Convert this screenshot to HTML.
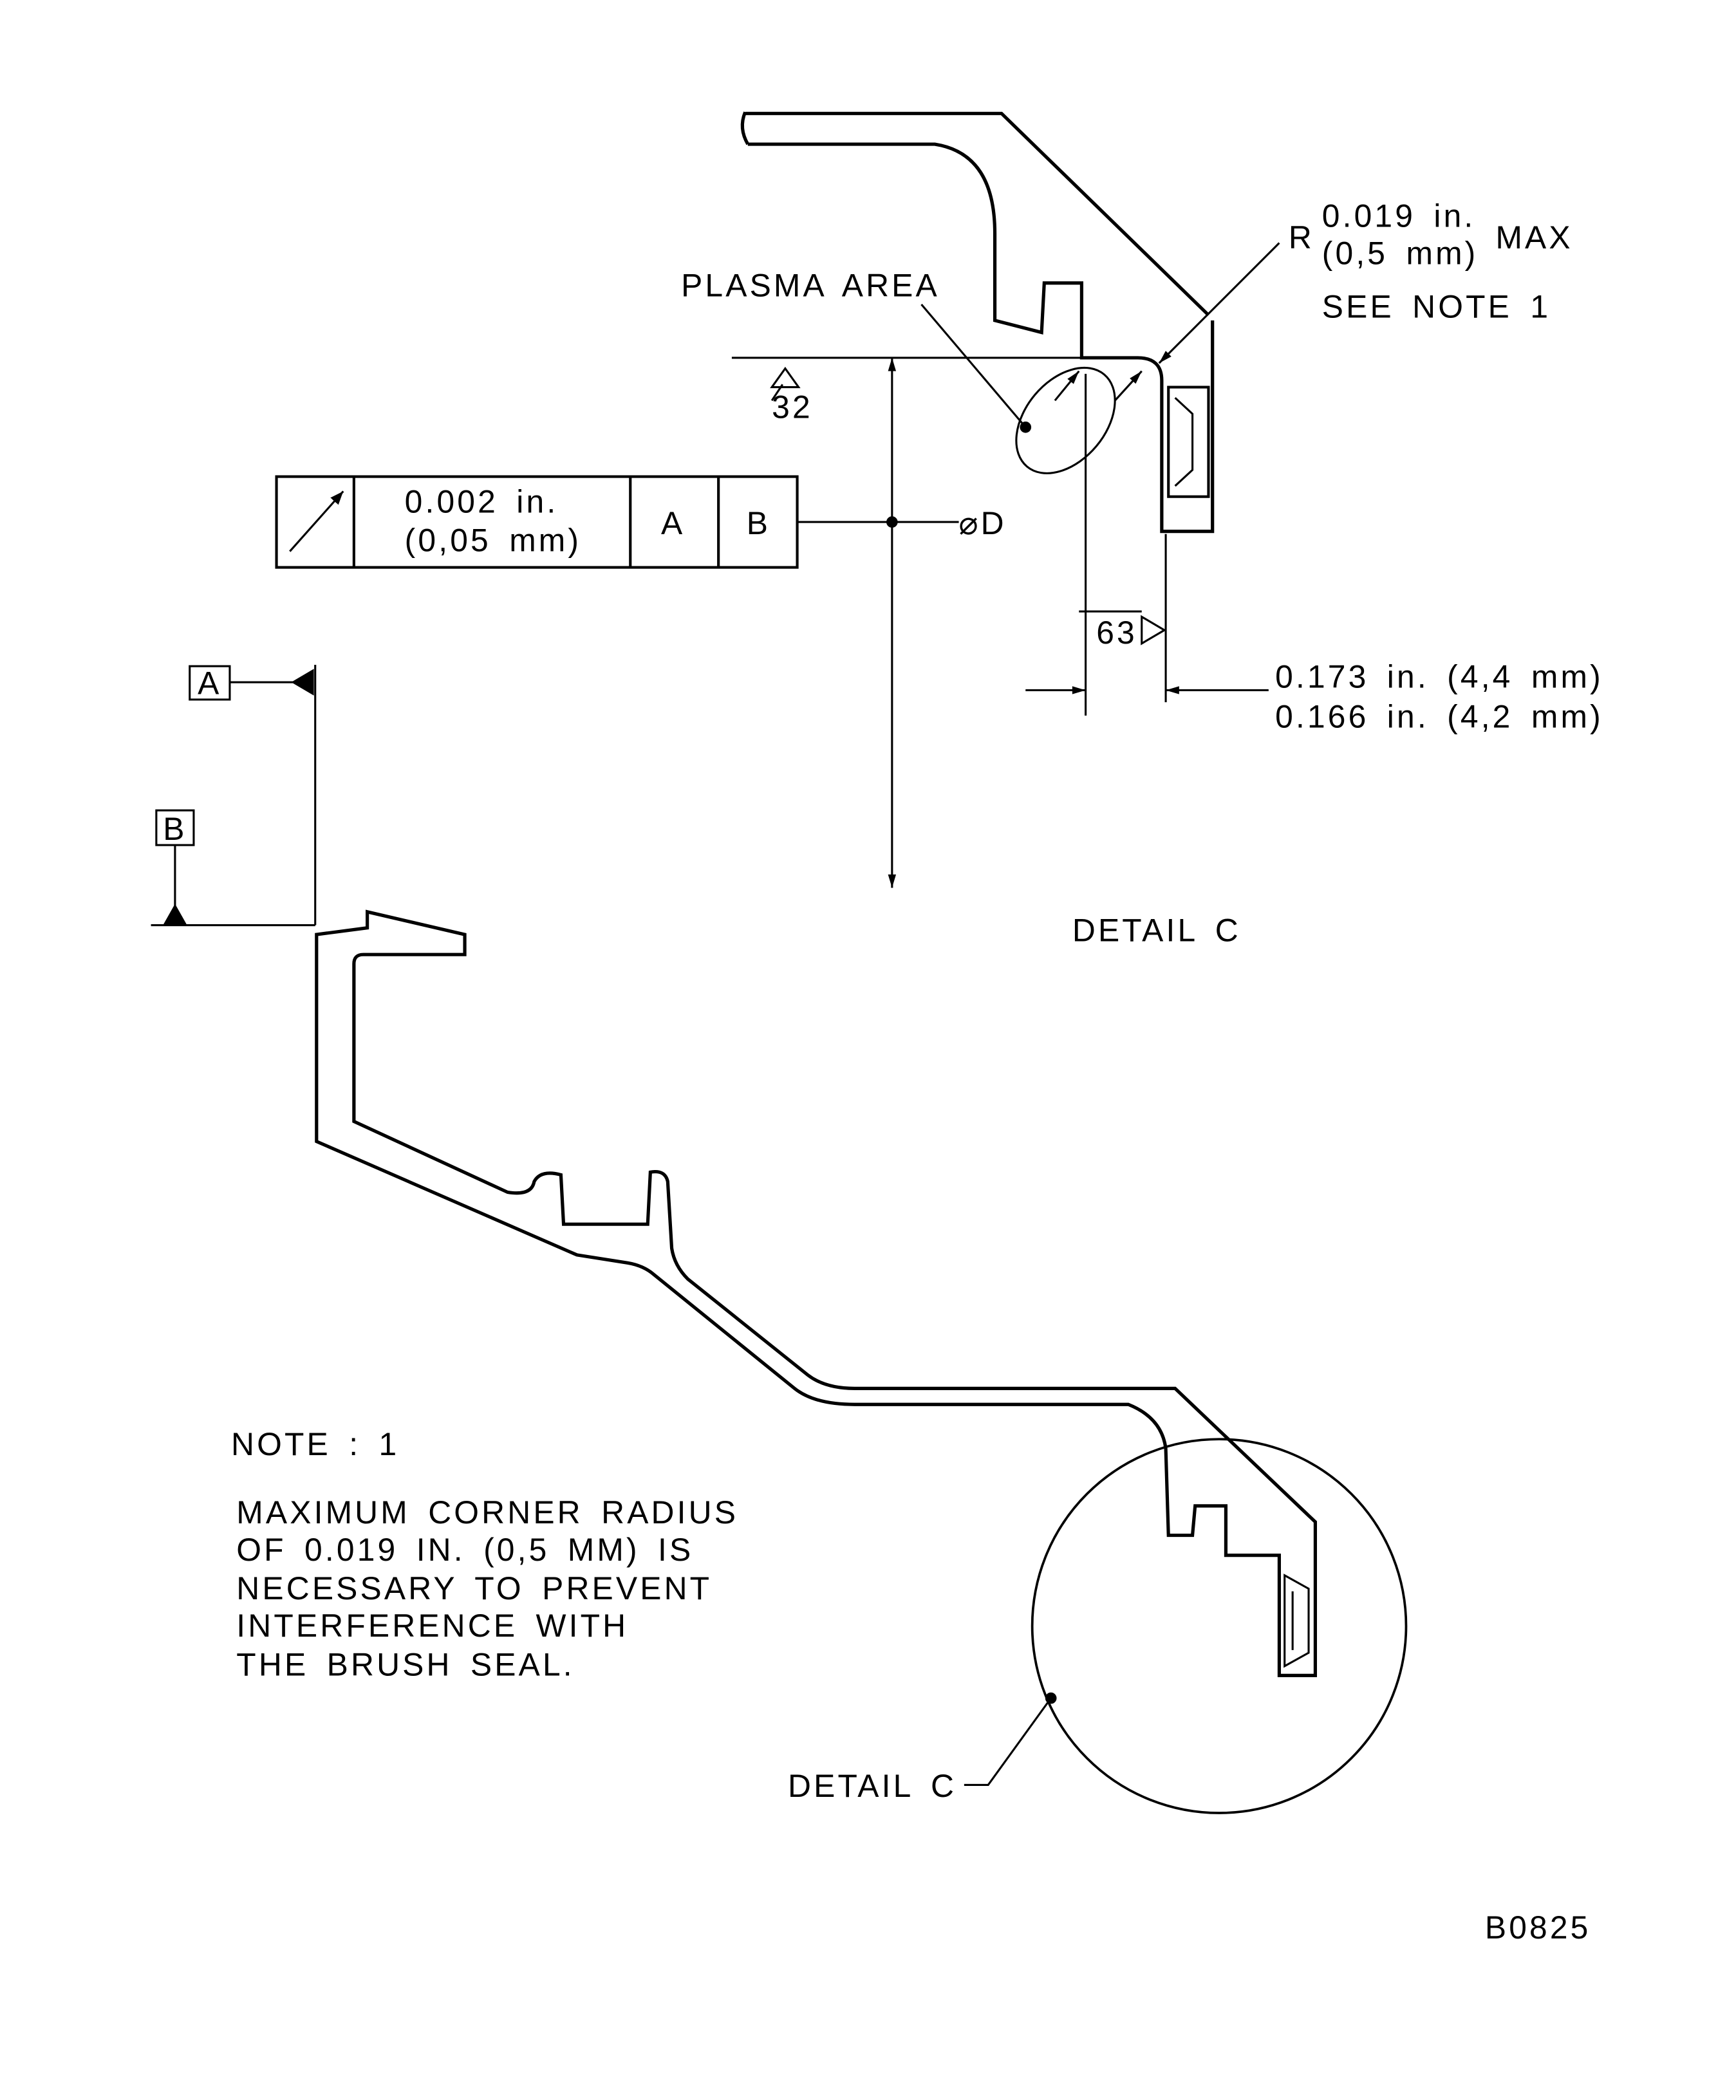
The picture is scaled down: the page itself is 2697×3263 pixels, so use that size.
<!DOCTYPE html>
<html><head><meta charset="utf-8"><style>
html,body{margin:0;padding:0;background:#fff;}
svg{display:block;}
text{font-family:"Liberation Sans",sans-serif;fill:#000;font-size:24px;letter-spacing:2px;word-spacing:5px;}
</style></head><body>
<svg width="2697" height="3263" viewBox="0 0 1300 1573" xmlns="http://www.w3.org/2000/svg">
<defs>
<marker id="ar" viewBox="0 0 10 10" refX="10" refY="5" markerWidth="10" markerHeight="10" markerUnits="userSpaceOnUse" orient="auto-start-reverse"><path d="M0,1 L10,5 L0,9 z" fill="#000"/></marker>
<marker id="arL" viewBox="0 0 10 10" refX="10" refY="5" markerWidth="16" markerHeight="10" markerUnits="userSpaceOnUse" orient="auto-start-reverse"><path d="M0,2 L10,5 L0,8 z" fill="#000"/></marker>
</defs>
<g fill="none" stroke="#000" stroke-width="2.5" stroke-linejoin="miter">
<path d="M558,84 Q553,96 560,108"/>
<path d="M558,85 L750,85 L905,236"/>
<path d="M560,108 L700,108 Q745,115 745,175 L745,240 L780,249 L782,212 L810,212 L810,268 L852,268 Q870,268 870,285 L870,398 L908,398 L908,240"/>
<path d="M875,290 L905,290 L905,372 L875,372 Z" stroke-width="2"/>
<path d="M880,298 L893,310 L893,352 L880,364" stroke-width="1.5"/>
<line x1="548" y1="268" x2="810" y2="268" stroke-width="1.5"/>
<path d="M578,290 L588,276 L598,290 Z M586,288 L578,300" stroke-width="1.5"/>
<line x1="668" y1="268" x2="668" y2="665" stroke-width="1.5" marker-start="url(#arL)" marker-end="url(#arL)"/>
<rect x="207" y="357" width="390" height="68" stroke-width="2"/>
<line x1="265" y1="357" x2="265" y2="425" stroke-width="2"/>
<line x1="472" y1="357" x2="472" y2="425" stroke-width="2"/>
<line x1="538" y1="357" x2="538" y2="425" stroke-width="2"/>
<line x1="217" y1="413" x2="257" y2="368" stroke-width="1.5" marker-end="url(#ar)"/>
<line x1="597" y1="391" x2="718" y2="391" stroke-width="1.5"/>
<circle cx="668" cy="391" r="3" fill="#000"/>
<ellipse cx="798" cy="315" rx="30" ry="45" transform="rotate(40 798 315)" stroke-width="1.5"/>
<line x1="690" y1="228" x2="768" y2="320" stroke-width="1.5"/>
<circle cx="768" cy="320" r="3" fill="#000"/>
<line x1="790" y1="300" x2="808" y2="278" stroke-width="1.5" marker-end="url(#arL)"/>
<line x1="835" y1="300" x2="855" y2="278" stroke-width="1.5" marker-end="url(#arL)"/>
<line x1="958" y1="182" x2="868" y2="272" stroke-width="1.5" marker-end="url(#arL)"/>
<line x1="813" y1="280" x2="813" y2="536" stroke-width="1.5"/>
<line x1="873" y1="400" x2="873" y2="526" stroke-width="1.5"/>
<line x1="768" y1="517" x2="813" y2="517" stroke-width="1.5" marker-end="url(#arL)"/>
<line x1="950" y1="517" x2="873" y2="517" stroke-width="1.5" marker-end="url(#arL)"/>
<path d="M808,458 L855,458 M855,462 L872,472 L855,482 Z" stroke-width="1.5"/>
<rect x="142" y="499" width="30" height="25" stroke-width="1.5"/>
<line x1="172" y1="511" x2="220" y2="511" stroke-width="1.5"/>
<path d="M218,511 L235,501 L235,521 Z" fill="#000" stroke="none"/>
<line x1="236" y1="498" x2="236" y2="693" stroke-width="1.5"/>
<rect x="117" y="607" width="28" height="26" stroke-width="1.5"/>
<line x1="131" y1="633" x2="131" y2="680" stroke-width="1.5"/>
<path d="M131,677 L122,693 L140,693 Z" fill="#000" stroke="none"/>
<line x1="113" y1="693" x2="236" y2="693" stroke-width="1.5"/>
<path d="M237,700 L275,695 L275,683 L348,700 L348,715 L272,715 Q265,715 265,722 L265,840 L380,893 Q398,896 400,885 Q405,876 420,880 L422,917 L485,917 L487,878 Q498,876 500,885 L503,935 Q505,948 515,958 L605,1030 Q618,1040 640,1040 L880,1040 L985,1140 L985,1255 L958,1255 L958,1165 L918,1165 L918,1128 L895,1128 L893,1150 L875,1150 L873,1085 Q870,1062 845,1052 L640,1052 Q610,1052 595,1040 L490,955 Q482,948 470,946 L432,940 L237,855 Z"/>
<path d="M962,1180 L980,1190 L980,1238 L962,1248 Z M968,1192 L968,1236" stroke-width="1.5"/>
<circle cx="913" cy="1218" r="140" stroke-width="1.8"/>
<path d="M787,1272 L740,1337 L722,1337" stroke-width="1.5"/>
<circle cx="787" cy="1272" r="3" fill="#000"/>
</g>
<text x="510" y="222">PLASMA AREA</text>
<text x="965" y="186">R</text>
<text x="990" y="170">0.019 in.</text>
<text x="990" y="198">(0,5 mm)</text>
<text x="1120" y="186">MAX</text>
<text x="990" y="238">SEE NOTE 1</text>
<text x="578" y="313">32</text>
<text x="303" y="384">0.002 in.</text>
<text x="303" y="413">(0,05 mm)</text>
<text x="495" y="400">A</text>
<text x="559" y="400">B</text>
<text x="718" y="400">⌀D</text>
<text x="821" y="482">63</text>
<text x="955" y="515">0.173 in. (4,4 mm)</text>
<text x="955" y="545">0.166 in. (4,2 mm)</text>
<text x="803" y="705">DETAIL C</text>
<text x="148" y="520" font-size="22">A</text>
<text x="122" y="629" font-size="22">B</text>
<text x="173" y="1090">NOTE : 1</text>
<text x="177" y="1141">MAXIMUM CORNER RADIUS</text>
<text x="177" y="1169">OF 0.019 IN. (0,5 MM) IS</text>
<text x="177" y="1198">NECESSARY TO PREVENT</text>
<text x="177" y="1226">INTERFERENCE WITH</text>
<text x="177" y="1255">THE BRUSH SEAL.</text>
<text x="590" y="1346">DETAIL C</text>
<text x="1112" y="1452">B0825</text>
</svg>
</body></html>
